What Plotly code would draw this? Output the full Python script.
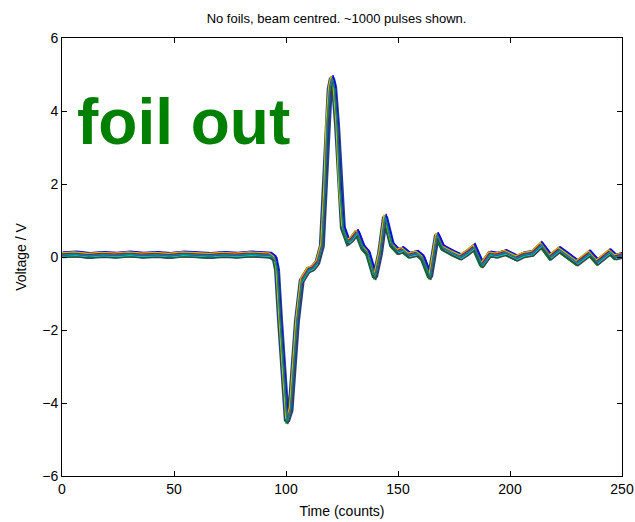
import plotly.graph_objects as go

# Mean pulse shape (time in counts, voltage in V)
pulse_time = [0, 6, 12, 18, 24, 30, 36, 42, 48, 54, 60, 66, 72, 78, 84, 90, 93, 95, 96,
              97.3, 98.7, 100.4, 102, 104.9, 107, 110, 112, 114, 116, 117.4, 118.3, 119.5,
              120.5, 121.5, 122.8, 124, 125.4, 127.7, 129.5, 131.7, 134.4, 136.6, 139.7,
              142, 144.2, 147.3, 150, 152, 155, 158.5, 161, 164.3, 167.4, 170, 174.5, 178,
              181, 184, 187.5, 191, 194, 198, 203, 206, 210, 214, 218, 222, 226, 230,
              235.5, 239, 244.6, 247, 250]
pulse_volt = [0.06, 0.08, 0.04, 0.07, 0.05, 0.08, 0.05, 0.07, 0.04, 0.08, 0.06, 0.04, 0.07,
              0.05, 0.08, 0.06, 0.05, -0.05, -0.35, -1.7, -3.1, -4.5, -4.2, -1.75, -0.65,
              -0.35, -0.3, -0.15, 0.3, 1.9, 3.6, 4.6, 4.9, 4.65, 3.6, 1.9, 0.8, 0.41, 0.5,
              0.68, 0.25, 0.1, -0.55, 0.1, 1.1, 0.33, 0.15, 0.2, 0.05, 0.1, -0.03, -0.55,
              0.6, 0.25, 0.1, 0.0, 0.12, 0.27, -0.22, 0.08, 0.05, 0.12, -0.03, 0.06, 0.1,
              0.33, 0.0, 0.2, 0.02, -0.16, 0.1, -0.14, 0.14, 0.0, 0.05]

# Spread of the ~1000 overlaid pulses
pulse_spread_v = [0.08, -0.07, 0.05, -0.04, 0.0, 0.06, -0.08]   # amplitude spread (V)
pulse_jitter_t = [0.5, -0.4, -0.2, 0.3, 0.0, -0.5, 0.4]         # timing jitter (counts)
trace_colors = ["#0000ff", "#008000", "#ff0000", "#00bfbf", "#bf00bf", "#bfbf00", "#404040"]

fig = go.Figure()

# dark base band
fig.add_trace(go.Scatter(x=pulse_time, y=pulse_volt, mode="lines",
                         line=dict(color="#1f3f8f", width=6), hoverinfo="skip",
                         showlegend=False))
for dv, dt, col in zip(pulse_spread_v, pulse_jitter_t, trace_colors):
    fig.add_trace(go.Scatter(x=[t + dt for t in pulse_time],
                             y=[v + dv for v in pulse_volt], mode="lines",
                             line=dict(color=col, width=1.2), showlegend=False))
fig.add_trace(go.Scatter(x=pulse_time, y=pulse_volt, mode="lines",
                         line=dict(color="#008b8b", width=1.2), showlegend=False))

axis_common = dict(showline=True, linecolor="black", linewidth=1, mirror="ticks",
                   ticks="inside", ticklen=5, tickcolor="black", showgrid=False,
                   zeroline=False, automargin=False,
                   tickfont=dict(family="Liberation Sans, Arial", size=14, color="black"))

fig.update_layout(
    width=635, height=522,
    margin=dict(l=62, r=13, t=38, b=46),
    paper_bgcolor="white", plot_bgcolor="white",
    title=dict(text="No foils, beam centred. ~1000 pulses shown.",
               font=dict(family="Liberation Sans, Arial", size=13, color="black"),
               x=0.53, xanchor="center", y=0.965, yanchor="middle"),
    xaxis=dict(range=[0, 250], tickvals=[0, 50, 100, 150, 200, 250],
               title=dict(text="Time (counts)", standoff=10,
                          font=dict(family="Liberation Sans, Arial", size=14, color="black")),
               **axis_common),
    yaxis=dict(range=[-6, 6], tickvals=[-6, -4, -2, 0, 2, 4, 6],
               title=dict(text="Voltage / V", standoff=12,
                          font=dict(family="Liberation Sans, Arial", size=14, color="black")),
               **axis_common),
    annotations=[dict(text="<b>foil out</b>", x=6.0, y=3.7, xref="x", yref="y",
                      xanchor="left", yanchor="middle", showarrow=False,
                      font=dict(family="Liberation Sans, Arial", size=64, color="#008000"))],
)

fig.write_html("out.html")
